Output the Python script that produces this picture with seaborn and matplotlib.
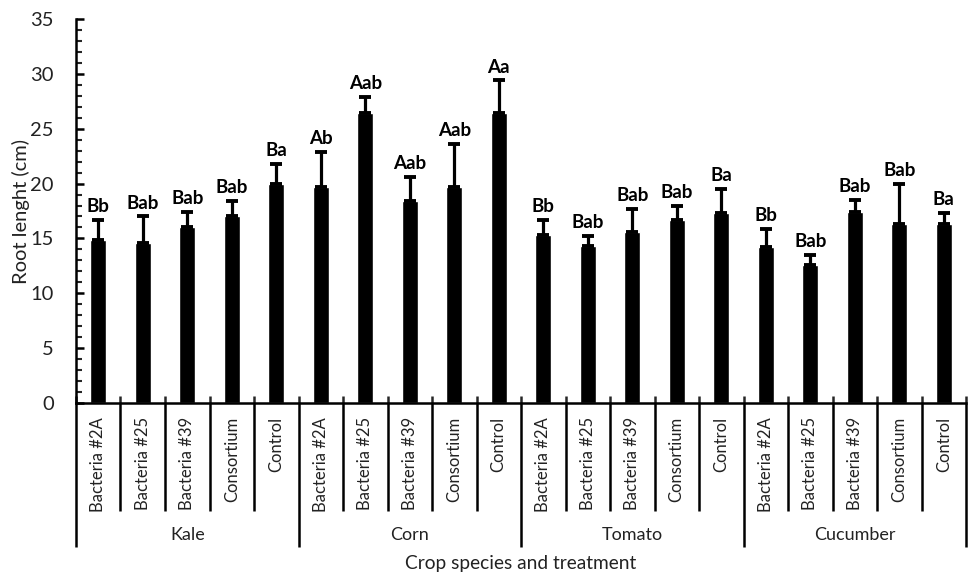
import matplotlib
matplotlib.use("Agg")
import matplotlib.pyplot as plt
import matplotlib.transforms as mtransforms
from matplotlib.ticker import MultipleLocator
import numpy as np
import pandas as pd
import seaborn as sns

crops = ["Kale", "Corn", "Tomato", "Cucumber"]
treatments = ["Bacteria #2A", "Bacteria #25", "Bacteria #39", "Consortium", "Control"]

kale_mean = [14.9, 14.6, 16.0, 17.0, 20.0]
corn_mean = [19.7, 26.4, 18.4, 19.7, 26.4]
tomato_mean = [15.3, 14.3, 15.6, 16.7, 17.3]
cucumber_mean = [14.2, 12.6, 17.4, 16.3, 16.3]

kale_err = [1.8, 2.4, 1.4, 1.4, 1.8]
corn_err = [3.2, 1.5, 2.2, 3.9, 3.0]
tomato_err = [1.4, 0.9, 2.1, 1.25, 2.2]
cucumber_err = [1.7, 0.9, 1.1, 3.7, 1.05]

kale_letters = ["Bb", "Bab", "Bab", "Bab", "Ba"]
corn_letters = ["Ab", "Aab", "Aab", "Aab", "Aa"]
tomato_letters = ["Bb", "Bab", "Bab", "Bab", "Ba"]
cucumber_letters = ["Bb", "Bab", "Bab", "Bab", "Ba"]

means = [kale_mean, corn_mean, tomato_mean, cucumber_mean]
errs = [kale_err, corn_err, tomato_err, cucumber_err]
letters = [kale_letters, corn_letters, tomato_letters, cucumber_letters]

rows = []
for c, m, e, l in zip(crops, means, errs, letters):
    for t, mv, ev, lv in zip(treatments, m, e, l):
        rows.append({"slot": f"{c}|{t}", "crop": c, "treatment": t,
                     "length": mv, "err": ev, "letter": lv})
df = pd.DataFrame(rows)
order = list(df["slot"])

sns.set_theme(style="white")
plt.rcParams["font.family"] = ["Lato", "DejaVu Sans"]

fig = plt.figure(figsize=(9.7, 5.78), dpi=100)
ax = fig.add_axes([76 / 970, 175 / 578, 890 / 970, 384 / 578])

sns.barplot(data=df, x="slot", y="length", order=order, color="black",
            width=0.35, saturation=1, errorbar=None, ax=ax)

xpos = np.arange(len(df))
ax.errorbar(xpos, df["length"], yerr=[np.zeros(len(df)), df["err"]],
            fmt="none", ecolor="black", elinewidth=2.3, capsize=4.5,
            capthick=2.8, zorder=3)

for x, y, e, lab in zip(xpos, df["length"], df["err"], df["letter"]):
    ax.text(x, y + e + 0.45, lab, ha="center", va="bottom",
            fontsize=13.5, fontweight="bold", color="black")

ax.set_xlim(-0.5, len(df) - 0.5)
ax.set_ylim(0, 35)
ax.yaxis.set_major_locator(MultipleLocator(5))
ax.yaxis.set_minor_locator(MultipleLocator(1))
ax.tick_params(axis="y", which="major", direction="in", length=6, width=1.8,
               labelsize=14.5, pad=16, left=True, colors="black")
ax.tick_params(axis="y", which="minor", direction="in", length=4, width=1.5,
               left=True)
for lab in ax.get_yticklabels():
    lab.set_color("#222222")

# category labels under each bar
ax.set_xticks(xpos)
ax.set_xticklabels(df["treatment"], rotation=90, fontsize=12, color="#222222")
ax.tick_params(axis="x", which="major", length=0, pad=10)

# small boundary ticks above the axis line
bounds = np.arange(len(df) + 1) - 0.5
ax.set_xticks(bounds, minor=True)
ax.tick_params(axis="x", which="minor", direction="in", length=5, width=1.8,
               bottom=True)

for side in ["top", "right"]:
    ax.spines[side].set_visible(False)
for side in ["left", "bottom"]:
    ax.spines[side].set_linewidth(1.8)
    ax.spines[side].set_color("black")

trans = mtransforms.blended_transform_factory(ax.transData, ax.transAxes)
for i, b in enumerate(bounds):
    depth = -0.375 if i % 5 == 0 else -0.281
    ax.plot([b, b], [0, depth], color="black", lw=1.8, transform=trans,
            clip_on=False, solid_capstyle="butt")

for g, c in enumerate(crops):
    ax.text(g * 5 + 2, -0.344, c, transform=trans, ha="center", va="center",
            fontsize=13, color="#222222")

ax.set_xlabel("")
ax.text(0.5 * (len(df) - 1), -0.417, "Crop species and treatment",
        transform=trans, ha="center", va="center", fontsize=13.8, color="#222222")
ax.set_ylabel("Root lenght (cm)", fontsize=14.5, color="#222222", labelpad=0)

fig.savefig("out.png", dpi=100, facecolor="white")
